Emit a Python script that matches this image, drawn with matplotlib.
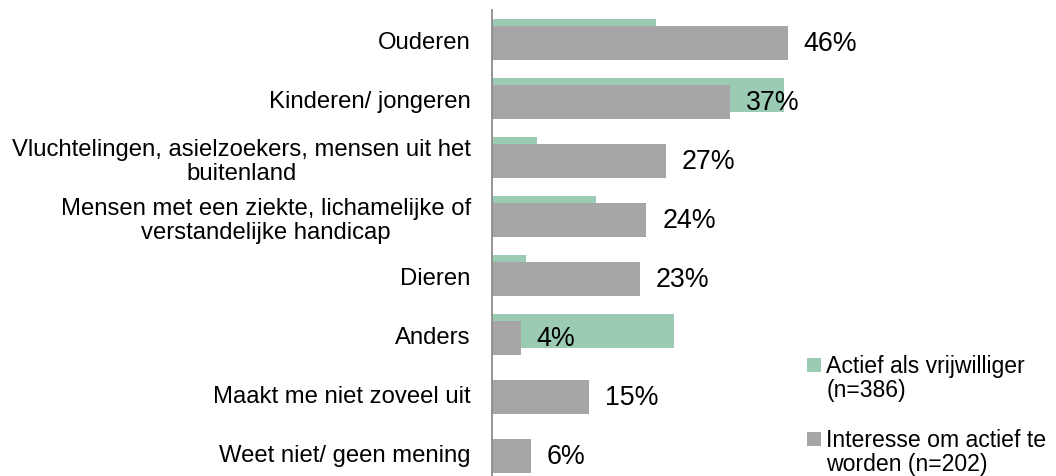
import matplotlib
matplotlib.use("Agg")
import matplotlib.pyplot as plt
from matplotlib.patches import Rectangle
import numpy as np

plt.rcParams['font.family'] = ['Liberation Sans', 'DejaVu Sans']

categories = [
    "Ouderen",
    "Kinderen/ jongeren",
    "Vluchtelingen, asielzoekers, mensen uit het\nbuitenland",
    "Mensen met een ziekte, lichamelijke of\nverstandelijke handicap",
    "Dieren",
    "Anders",
    "Maakt me niet zoveel uit",
    "Weet niet/ geen mening",
]
actief = [25.5, 45.4, 6.9, 16.1, 5.2, 28.3, 0, 0]
interesse = [46, 37, 27, 24, 23, 4.4, 15, 6]
series_labels = [
    ["Actief als vrijwilliger", "(n=386)"],
    ["Interesse om actief te", "worden (n=202)"],
]

GREEN = "#9BCBB3"
GRAY = "#A6A6A6"

W, H = 1056, 477
fig = plt.figure(figsize=(W / 100, H / 100), dpi=100)
ax = fig.add_axes([492.3 / W, 0, 321 / W, 466 / H])

y = np.arange(len(categories))
bh = 34 / 59.07
off = 3.5 / 59.07

ax.barh(y - off, actief, height=bh, color=GREEN, zorder=1)
bars = ax.barh(y + off, interesse, height=bh, color=GRAY, zorder=2)

for yi, v in zip(y + off, interesse):
    ax.annotate(f"{v:.0f}%", xy=(v, yi), xytext=(11.5, 0),
                textcoords="offset points", ha="left", va="center",
                fontsize=19.3, color="black", zorder=3)

ax.set_xlim(0, 50)
ax.set_ylim(7.39, -0.5)
ax.set_yticks(y)
ax.set_yticklabels(categories, fontsize=17.2, multialignment="center",
                   linespacing=1.1)
ax.tick_params(axis="y", length=0, pad=15.5)
ax.set_xticks([])
for s in ["top", "right", "bottom"]:
    ax.spines[s].set_visible(False)
ax.spines["left"].set_color("#8C8C8C")
ax.spines["left"].set_linewidth(1.3)

# legend
colors = [GREEN, GRAY]
sq_tops = [359, 433]
baselines = [(372.7, 396.7), (447.3, 471.3)]
for c, top, (b1, b2), lines in zip(colors, sq_tops, baselines, series_labels):
    fig.add_artist(Rectangle((807 / W, 1 - (top + 14) / H), 14 / W, 14 / H,
                             transform=fig.transFigure, color=c, lw=0))
    fig.text(826.5 / W, 1 - b1 / H, lines[0], fontsize=16.6, va="baseline", ha="left")
    fig.text(826.5 / W, 1 - b2 / H, lines[1], fontsize=16.6, va="baseline", ha="left")

fig.savefig("out.png", dpi=100)
